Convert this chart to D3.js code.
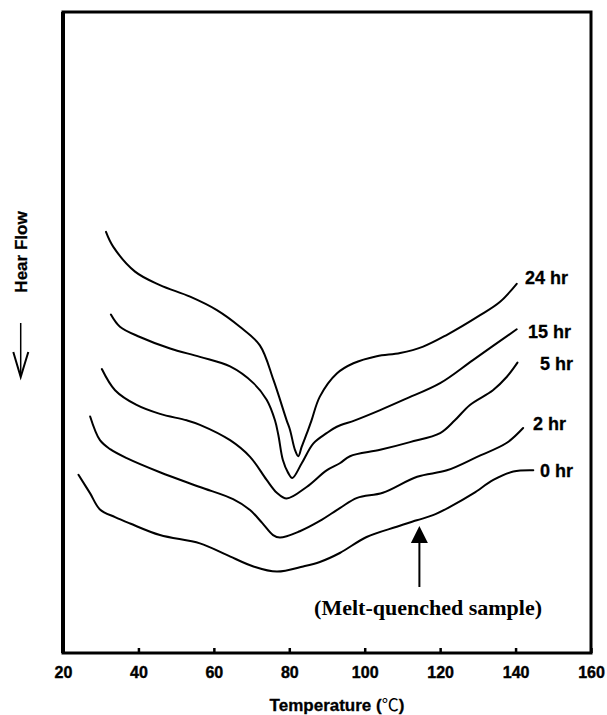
<!DOCTYPE html>
<html>
<head>
<meta charset="utf-8">
<script src="https://cdn.jsdelivr.net/npm/d3@7"></script>
<style>
  html, body { margin: 0; padding: 0; background: #fff; }
  svg { display: block; }
</style>
</head>
<body>
<svg id="chart" width="607" height="715"></svg>
<script>
// ---- Data (temperature in °C, heat flow in arbitrary units) ----
const tickValues = [20, 40, 60, 80, 100, 120, 140, 160];

const hr24 = [[31.4,65.7],[33.3,63.4],[39.1,59.5],[45.7,57.4],[53.7,55.6],[60.8,53.5],[66.9,50.9],[72.2,48.0],[75.8,42.6],[79.3,36.3],[80.2,34.8],[81.5,31.7],[82.4,30.7],[83.3,32.2],[85.0,34.8],[85.9,36.3],[88.1,40.0],[92.6,43.6],[97.0,45.2],[103.2,46.3],[109.4,46.8],[115.5,47.8],[121.7,49.6],[130.6,52.7],[135.9,54.8],[140.3,57.6]];
const hr15 = [[32.7,52.8],[35.1,50.9],[40.4,49.3],[48.4,47.5],[56.3,46.2],[64.3,44.7],[70.5,42.1],[74.0,39.5],[76.2,36.3],[77.1,34.0],[78.3,30.1],[79.7,28.1],[80.8,27.3],[83.3,29.6],[86.4,32.7],[89.9,34.3],[92.6,35.3],[97.4,36.3],[104.1,37.9],[110.7,39.6],[120.0,42.1],[128.7,45.7],[140.3,50.5]];
const hr5 = [[30.3,44.3],[33.8,41.0],[39.5,38.7],[45.7,37.3],[52.8,36.3],[56.3,35.6],[64.3,33.2],[69.6,30.6],[74.0,27.0],[76.7,25.0],[79.3,24.1],[84.6,25.9],[89.9,28.5],[93.4,29.6],[96.1,30.7],[104.1,31.7],[112.0,32.9],[120.0,34.3],[123.9,36.3],[127.9,38.7],[134.0,41.0],[137.7,43.1],[140.5,45.3]];
const hr2 = [[27.2,36.9],[29.8,33.2],[32.5,31.8],[36.9,30.4],[45.7,28.2],[56.3,25.9],[65.1,24.0],[69.6,22.3],[72.8,20.3],[75.7,18.4],[77.5,18.0],[82.8,19.0],[88.1,20.6],[93.4,22.6],[98.0,24.2],[104.8,25.0],[113.9,27.5],[121.8,28.5],[129.8,30.6],[137.7,32.8],[142.0,35.1]];
const hr0 = [[24.1,27.8],[27.2,24.9],[29.8,22.4],[33.8,21.2],[37.8,20.2],[45.7,18.4],[56.3,17.1],[63.4,15.3],[70.5,13.5],[76.7,12.7],[83.7,13.5],[88.1,14.2],[93.4,15.6],[100.5,18.1],[108.5,19.7],[113.8,20.7],[118.1,21.5],[122.6,22.8],[128.8,24.9],[134.1,27.0],[139.4,28.3],[144.7,28.5]];

const seriesNames = ["24 hr", "15 hr", "5 hr", "2 hr", "0 hr"];
const seriesData = [hr24, hr15, hr5, hr2, hr0];
// label anchors (start temperature, heat-flow level)
const labelT = [142.5, 143.3, 146.5, 144.6, 146.5];
const labelV = [58.5, 50.1, 45.1, 35.7, 28.4];

// annotation: arrow pointing to the 0 hr curve
const annotT = 114.5;
const annotTipV = 19.8;
const annotBaseV = 10.3;
const annotText = "(Melt-quenched sample)";
const annotTextT = 116.8;
const annotTextV = 5.9;

// ---- Layout ----
const svg = d3.select("#chart");
const mLeft = 63, mRight = 591, mTop = 12, mBottom = 653;

const x = d3.scaleLinear().domain([20, 160]).range([mLeft, mRight]);
const y = d3.scaleLinear().domain([0, 100]).range([mBottom, mTop]);

// curves
const line = d3.line()
  .x(d => x(d[0]))
  .y(d => y(d[1]))
  .curve(d3.curveCatmullRom.alpha(0.5));

svg.append("g").selectAll("path")
  .data(seriesData)
  .join("path")
  .attr("d", line)
  .attr("fill", "none")
  .attr("stroke", "#000")
  .attr("stroke-width", 2)
  .attr("stroke-linejoin", "round")
  .attr("stroke-linecap", "round");

// series labels
svg.append("g").selectAll("text")
  .data(seriesNames)
  .join("text")
  .attr("x", (d, i) => x(labelT[i]))
  .attr("y", (d, i) => y(labelV[i]))
  .attr("dy", "0.35em")
  .attr("font-family", "Liberation Sans, Arial, sans-serif")
  .attr("font-weight", "bold")
  .attr("font-size", 18)
  .attr("fill", "#000")
  .attr("stroke", "#000")
  .attr("stroke-width", 0.3)
  .text(d => d);

// annotation arrow
const ax = x(annotT), tipY = y(annotTipV), baseY = y(annotBaseV);
svg.append("line")
  .attr("x1", ax).attr("x2", ax)
  .attr("y1", tipY + 14).attr("y2", baseY)
  .attr("stroke", "#000").attr("stroke-width", 2);
svg.append("path")
  .attr("d", `M${ax},${tipY} L${ax - 8.5},${tipY + 17} L${ax + 8.5},${tipY + 17} Z`)
  .attr("fill", "#000");
svg.append("text")
  .attr("x", x(annotTextT))
  .attr("y", y(annotTextV))
  .attr("text-anchor", "middle")
  .attr("font-family", "Liberation Serif, 'Times New Roman', serif")
  .attr("font-weight", "bold")
  .attr("font-size", 22)
  .attr("fill", "#000")
  .text(annotText);

// frame
svg.append("rect")
  .attr("x", mLeft).attr("y", mTop)
  .attr("width", mRight - mLeft).attr("height", mBottom - mTop)
  .attr("fill", "none")
  .attr("stroke", "#000")
  .attr("stroke-width", 3);
svg.append("line")
  .attr("x1", mLeft).attr("x2", mLeft).attr("y1", mTop).attr("y2", mBottom)
  .attr("stroke", "#000").attr("stroke-width", 4);

// x axis
const xAxis = d3.axisBottom(x)
  .tickValues(tickValues)
  .tickFormat(d3.format("d"))
  .tickSizeInner(-5)
  .tickSizeOuter(0)
  .tickPadding(14);
const gx = svg.append("g")
  .attr("transform", `translate(0,${mBottom})`)
  .call(xAxis);
gx.select(".domain").remove();
gx.selectAll(".tick line").attr("stroke", "#000").attr("stroke-width", 2.5);
gx.selectAll(".tick text")
  .attr("font-family", "Liberation Sans, Arial, sans-serif")
  .attr("font-weight", "bold")
  .attr("font-size", 16)
  .attr("fill", "#000")
  .attr("stroke", "#000")
  .attr("stroke-width", 0.4);

// x axis title
const xt = svg.append("text")
  .attr("x", 337)
  .attr("y", 711)
  .attr("text-anchor", "middle")
  .attr("font-family", "Liberation Sans, Arial, sans-serif")
  .attr("font-weight", "bold")
  .attr("font-size", 17)
  .attr("fill", "#000");
xt.append("tspan").attr("stroke", "#000").attr("stroke-width", 0.3).text("Temperature (");
xt.append("tspan").attr("font-weight", "normal").attr("font-family", "Noto Sans CJK SC, sans-serif").text("℃");
xt.append("tspan").attr("stroke", "#000").attr("stroke-width", 0.3).text(")");

// y axis title
svg.append("text")
  .attr("transform", "translate(21,252) rotate(-90)")
  .attr("text-anchor", "middle")
  .attr("dy", "0.35em")
  .attr("font-family", "Liberation Sans, Arial, sans-serif")
  .attr("font-weight", "bold")
  .attr("font-size", 17)
  .attr("fill", "#000")
  .attr("stroke", "#000")
  .attr("stroke-width", 0.3)
  .text("Hear Flow");

// y direction arrow (heat flow downwards)
svg.append("line")
  .attr("x1", 20.7).attr("x2", 20.7).attr("y1", 323).attr("y2", 376)
  .attr("stroke", "#000").attr("stroke-width", 1.5);
svg.append("path")
  .attr("d", "M13.3,352 L20.7,377 L28.3,352")
  .attr("fill", "none").attr("stroke", "#000").attr("stroke-width", 2);
</script>
</body>
</html>
